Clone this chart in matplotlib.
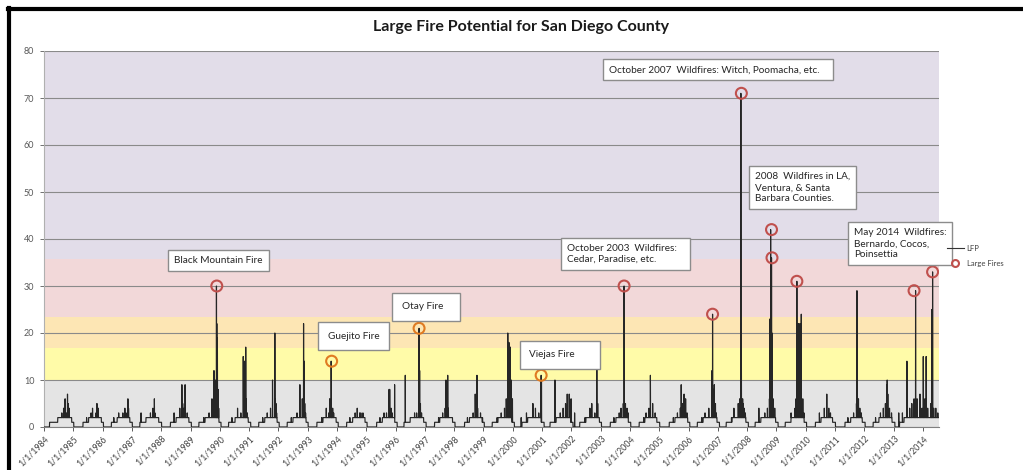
import matplotlib
matplotlib.use("Agg")
import matplotlib.pyplot as plt
import matplotlib.dates as mdates
from matplotlib.lines import Line2D
from matplotlib.ticker import FuncFormatter
import pandas as pd

plt.rcParams['font.family'] = ['Lato', 'DejaVu Sans']

# daily LFP series: quiet baseline periods (level 1 / level 2) plus daily spikes
low_start = ["1984-03-10", "1985-05-01", "1986-04-20", "1987-04-10", "1988-04-25",
             "1989-04-15", "1990-04-20", "1991-05-01", "1992-04-20", "1993-04-25",
             "1994-05-01", "1995-05-10", "1996-04-15", "1997-05-01", "1998-05-10",
             "1999-04-20", "2000-04-25", "2001-04-10", "2002-04-15", "2003-05-01",
             "2004-04-25", "2005-05-05", "2006-04-20", "2007-04-15", "2008-04-10",
             "2009-04-20", "2010-05-01", "2011-05-05", "2012-04-20", "2013-03-15"]
low_end = ["1985-01-05", "1986-01-10", "1987-01-05", "1988-01-05", "1989-01-10",
           "1990-01-15", "1991-01-20", "1992-01-10", "1993-01-05", "1994-01-15",
           "1995-01-10", "1996-01-20", "1997-01-15", "1998-01-10", "1999-01-10",
           "2000-01-20", "2001-01-25", "2002-01-20", "2003-01-10", "2004-01-10",
           "2005-01-05", "2006-01-15", "2007-01-20", "2008-01-15", "2009-01-20",
           "2010-01-10", "2011-01-05", "2012-01-10", "2013-01-15", "2014-09-30"]
high_start = ["1984-06-20", "1985-07-10", "1986-07-01", "1987-06-25", "1988-07-05",
              "1989-07-01", "1990-07-10", "1991-07-15", "1992-07-01", "1993-07-10",
              "1994-07-15", "1995-07-20", "1996-07-01", "1997-07-05", "1998-07-10",
              "1999-07-01", "2000-07-05", "2001-06-25", "2002-07-01", "2003-07-10",
              "2004-07-05", "2005-07-15", "2006-07-01", "2007-06-25", "2008-06-20",
              "2009-07-01", "2010-07-10", "2011-07-15", "2012-07-01", "2013-05-10"]
high_end = ["1984-12-10", "1985-12-15", "1986-12-05", "1987-11-30", "1988-12-10",
            "1989-12-20", "1990-12-20", "1991-12-15", "1992-12-10", "1993-12-20",
            "1994-12-15", "1995-12-20", "1996-12-15", "1997-12-10", "1998-12-15",
            "1999-12-20", "2000-12-20", "2001-12-25", "2002-12-15", "2003-12-10",
            "2004-11-30", "2005-12-20", "2006-12-20", "2007-12-15", "2008-12-20",
            "2009-12-10", "2010-11-30", "2011-12-05", "2012-12-10", "2014-09-30"]

spike_dates = [
    "1984-05-20", "1984-08-10", "1984-09-01", "1984-09-20", "1984-10-05", "1984-10-20", "1984-10-28", "1984-11-10", "1984-11-25",
    "1985-06-15", "1985-08-10", "1985-08-28", "1985-09-15", "1985-10-10", "1985-10-22", "1985-11-08", "1985-11-25",
    "1986-05-20", "1986-07-20", "1986-09-10", "1986-10-05", "1986-10-20", "1986-11-12", "1986-11-20", "1986-12-01",
    "1987-04-25", "1987-07-15", "1987-08-20", "1987-09-20", "1987-10-08", "1987-10-15", "1987-11-01",
    "1988-06-10", "1988-08-20", "1988-09-15", "1988-09-25", "1988-10-10", "1988-10-25", "1988-11-20", "1988-12-05",
    "1989-06-15", "1989-08-20", "1989-09-25", "1989-10-20", "1989-11-05", "1989-11-20", "1989-11-24", "1989-11-27", "1989-12-02", "1989-12-10", "1989-12-18",
    "1990-06-01", "1990-08-10", "1990-09-20", "1990-10-20", "1990-10-27", "1990-11-06", "1990-11-14", "1990-11-20", "1990-11-25", "1990-12-10",
    "1991-06-20", "1991-08-15", "1991-09-25", "1991-10-20", "1991-11-18", "1991-11-25", "1991-12-02", "1991-12-10",
    "1992-06-10", "1992-08-20", "1992-09-25", "1992-10-25", "1992-11-10", "1992-11-18", "1992-11-25", "1992-12-05",
    "1993-06-25", "1993-08-20", "1993-09-20", "1993-10-01", "1993-10-20", "1993-10-26", "1993-11-08", "1993-11-20", "1993-12-05",
    "1994-06-10", "1994-08-15", "1994-09-10", "1994-10-10", "1994-10-25", "1994-11-20", "1994-12-05",
    "1995-06-20", "1995-08-10", "1995-09-10", "1995-10-12", "1995-10-20", "1995-11-06", "1995-11-20", "1995-12-20",
    "1996-05-01", "1996-07-20", "1996-08-25", "1996-09-20", "1996-10-20", "1996-10-27", "1996-11-06", "1996-11-20",
    "1997-06-20", "1997-08-10", "1997-09-10", "1997-09-20", "1997-10-12", "1997-10-20", "1997-11-15",
    "1998-06-15", "1998-08-25", "1998-09-20", "1998-10-12", "1998-10-20", "1998-11-25", "1998-12-20",
    "1999-06-20", "1999-08-10", "1999-09-20", "1999-10-12", "1999-10-31", "1999-11-06", "1999-11-14", "1999-11-20", "1999-12-02", "1999-12-13", "1999-12-28",
    "2000-04-15", "2000-06-20", "2000-09-08", "2000-10-10", "2000-11-20", "2000-12-20", "2000-12-24",
    "2001-06-10", "2001-08-15", "2001-09-20", "2001-10-20", "2001-11-10", "2001-12-05", "2001-12-28",
    "2002-02-10", "2002-06-20", "2002-08-20", "2002-09-12", "2002-10-20", "2002-11-14", "2002-11-25",
    "2003-06-15", "2003-08-20", "2003-09-12", "2003-10-10", "2003-10-20", "2003-11-06", "2003-11-25", "2003-12-10",
    "2004-06-20", "2004-07-20", "2004-08-25", "2004-09-12", "2004-10-10", "2004-11-10",
    "2005-06-25", "2005-08-15", "2005-09-20", "2005-10-01", "2005-10-20", "2005-11-06", "2005-11-25", "2005-12-13",
    "2006-06-15", "2006-07-25", "2006-09-10", "2006-10-20", "2006-10-27", "2006-11-10", "2006-11-18", "2006-12-02", "2006-12-13",
    "2007-06-20", "2007-07-20", "2007-09-12", "2007-10-01", "2007-10-15", "2007-10-21", "2007-11-06", "2007-11-14", "2007-11-25", "2007-12-10",
    "2008-05-26", "2008-08-08", "2008-09-10", "2008-10-05", "2008-10-12", "2008-10-20", "2008-10-31", "2008-11-06", "2008-11-20", "2008-12-10",
    "2009-07-02", "2009-08-20", "2009-09-01", "2009-09-12", "2009-10-01", "2009-10-20", "2009-11-06", "2009-11-25", "2009-12-10",
    "2010-06-20", "2010-08-20", "2010-09-20", "2010-10-15", "2010-11-05", "2010-11-20",
    "2011-06-10", "2011-08-20", "2011-09-25", "2011-10-01", "2011-10-20", "2011-11-06", "2011-11-25",
    "2012-05-20", "2012-07-20", "2012-08-25", "2012-09-20", "2012-10-05", "2012-10-12", "2012-10-20", "2012-11-10", "2012-12-05",
    "2013-03-05", "2013-04-20", "2013-06-15", "2013-07-20", "2013-08-15", "2013-09-12", "2013-10-01", "2013-10-20",
    "2013-11-25", "2013-12-20", "2014-01-05", "2014-01-25", "2014-02-10", "2014-03-01", "2014-04-10", "2014-04-20", "2014-05-01",
    "2014-05-15", "2014-06-10", "2014-07-05"]
spike_vals = [
    1, 3, 4, 6, 3, 7, 5, 4, 2,
    2, 3, 4, 2, 3, 5, 4, 2,
    2, 3, 3, 4, 3, 6, 4, 2,
    3, 2, 3, 4, 6, 3, 2,
    3, 4, 9, 5, 4, 9, 3, 2,
    2, 3, 6, 12, 10, 30, 22, 19, 16, 8, 4,
    2, 4, 3, 15, 10, 14, 9, 17, 6, 3,
    2, 3, 4, 10, 20, 6, 5, 3,
    2, 3, 9, 6, 22, 14, 5, 3,
    2, 4, 3, 6, 14, 4, 4, 3, 2,
    2, 3, 4, 3, 3, 3, 2,
    2, 3, 3, 8, 8, 4, 3, 9,
    11, 2, 3, 3, 21, 12, 5, 3,
    2, 3, 4, 10, 11, 4, 2,
    2, 3, 7, 11, 4, 3, 2,
    2, 3, 4, 6, 20, 16, 18, 12, 17, 10, 6,
    2, 3, 5, 4, 3, 11, 10,
    10, 3, 4, 5, 7, 7, 6,
    3, 2, 4, 5, 3, 13, 5,
    2, 3, 4, 5, 30, 5, 4, 3,
    2, 3, 4, 11, 5, 3,
    2, 3, 4, 9, 5, 7, 6, 3,
    2, 3, 4, 12, 24, 8, 9, 5, 3,
    2, 4, 5, 6, 71, 18, 6, 5, 4, 3,
    4, 3, 4, 6, 23, 42, 36, 20, 6, 4,
    3, 4, 6, 31, 22, 22, 24, 6, 3,
    3, 4, 7, 4, 3, 2,
    2, 3, 5, 29, 6, 4, 3,
    2, 3, 4, 5, 9, 10, 7, 4, 3,
    3, 3, 14, 4, 5, 6, 29, 6,
    7, 4, 15, 6, 15, 4, 5, 25, 33,
    4, 4, 3]

fire_dates = ["1989-11-24", "1993-10-26", "1996-10-20", "2000-12-20", "2003-10-20",
              "2006-10-27", "2007-10-21", "2008-10-31", "2008-11-06", "2009-09-12",
              "2013-09-12", "2014-05-01"]
fire_vals = [30, 14, 21, 11, 30, 24, 71, 42, 36, 31, 29, 33]

band_edges = [0, 10, 16.8, 23.4, 35.7, 80]
band_colors = ["#e4e4e4", "#fffba8", "#fde6b4", "#f2d8d9", "#e2dde9"]

notes = ["Black Mountain Fire", "Guejito Fire", "Otay Fire", "Viejas Fire",
         "October 2003  Wildfires:\nCedar, Paradise, etc.",
         "October 2007  Wildfires: Witch, Poomacha, etc.",
         "2008  Wildfires in LA,\nVentura, & Santa\nBarbara Counties.",
         "May 2014  Wildfires:\nBernardo, Cocos,\nPoinsettia"]
note_x = ["1988-06-10", "1993-09-05", "1996-03-15", "2000-07-27", "2001-11-06",
          "2003-04-12", "2008-04-09", "2011-08-21"]
note_y = [35.5, 19.3, 25.6, 15.4, 36.9, 76.0, 50.9, 39.0]
note_pad = [0.6, 0.95, 0.95, 0.95, 0.6, 0.6, 0.6, 0.6]
note_tail = [0, 0, 3, 6, 3, 3, 0, 0]

# build daily series
days = pd.date_range("1984-01-01", "2014-07-20", freq="D")
lfp = pd.Series(0.0, index=days)
for a, b in zip(low_start, low_end):
    lfp[a:b] = 1
for a, b in zip(high_start, high_end):
    lfp[a:b] = 2
for d, v in zip(spike_dates, spike_vals):
    lfp[d] = v

fig = plt.figure(figsize=(10.23, 4.70), dpi=100)
ax = fig.add_axes([44 / 1023, 43 / 470, 895 / 1023, 376 / 470])

for i in range(len(band_colors)):
    ax.axhspan(band_edges[i], band_edges[i + 1], color=band_colors[i], lw=0, zorder=0)

ax.set_ylim(0, 80)
ax.set_yticks(range(0, 81, 10))
ax.set_xlim(days[0], days[-1])
ax.grid(axis="y", color="#8a8a8a", lw=0.8, zorder=1)
ax.set_axisbelow(True)

ax.plot(lfp.index, lfp.values, color="#262626", lw=0.85, zorder=3, label="LFP")

fd = pd.to_datetime(fire_dates)
fcol = ["#e07b22" if v < 23.4 else "#c0504d" for v in fire_vals]
ax.scatter(fd, fire_vals, s=62, facecolors="none", edgecolors=fcol, linewidths=1.5, zorder=4)

for t, x, y, p, n in zip(notes, note_x, note_y, note_pad, note_tail):
    lines = t.split("\n")
    lines[0] = lines[0] + " " * n
    ax.text(pd.Timestamp(x), y, "\n".join(lines), fontsize=7.2, color="#262626",
            ha="left", va="center", linespacing=1.3, zorder=5,
            bbox=dict(boxstyle="square,pad=%g" % p, fc="white", ec="#8c8c8c", lw=1.0),
            clip_on=False)

ax.xaxis.set_major_locator(mdates.YearLocator())
ax.xaxis.set_major_formatter(FuncFormatter(lambda v, p: "1/1/%d" % mdates.num2date(v).year))
plt.setp(ax.get_xticklabels(), rotation=45, ha="right", rotation_mode="anchor")
ax.tick_params(axis="x", labelsize=6.3, colors="#404040", length=3, width=0.6, pad=2)
ax.tick_params(axis="y", labelsize=6.5, colors="#595959", length=3, width=0.6, pad=4)
for s in ["top", "right"]:
    ax.spines[s].set_visible(False)
ax.spines["left"].set_color("#b0b0b0")
ax.spines["bottom"].set_color("#808080")

fig.text(0.509, 0.942, "Large Fire Potential for San Diego County", ha="center", va="center",
         fontsize=11.5, fontweight="bold", color="#1a1a1a")

handles = [Line2D([], [], color="#333333", lw=0.8),
           Line2D([], [], marker="o", ls="none", mfc="none", mec="#c0504d", mew=1.5, ms=5)]
fig.legend(handles, ["LFP", "Large Fires"], loc="upper left", bbox_to_anchor=(940 / 1023, 1 - 238 / 470),
           frameon=False, fontsize=5.5, labelcolor="#404040", handlelength=2.2, handletextpad=0.4,
           labelspacing=1.0)

# document frame
fig.add_artist(Line2D([8 / 1023, 1], [1 - 9 / 470, 1 - 9 / 470], color="black", lw=3))
fig.add_artist(Line2D([9 / 1023, 9 / 1023], [0, 1 - 8 / 470], color="black", lw=3))

fig.savefig("out.png", dpi=100)
